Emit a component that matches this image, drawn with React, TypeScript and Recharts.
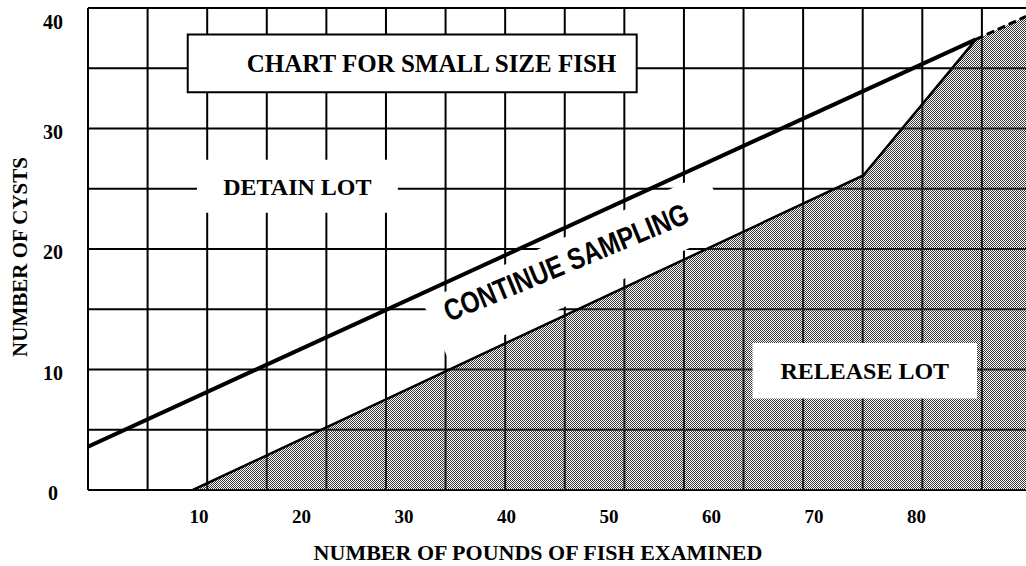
import {
  ComposedChart,
  XAxis,
  YAxis,
  CartesianGrid,
  Area,
  Line,
  ReferenceArea,
  ReferenceDot,
} from "recharts"

const SERIF = '"Liberation Serif", "Times New Roman", serif'
const SANS = '"Liberation Sans", Arial, sans-serif'

// axes
const X_DOMAIN = [-0.83, 90.68]
const X_TICKS = [10, 20, 30, 40, 50, 60, 70, 80]
const Y_TICKS = [0, 5, 10, 15, 20, 25, 30, 35, 40]
// the printed grid does not follow the pound ticks, it has its own columns
const GRID_SPAN = 15.74
const GRID_COLS = [0, 1, 2, 3, 4, 5, 6, 7, 8, 9, 10, 11, 12, 13, 14, 15]

// decision lines (pounds examined -> cysts)
const UPPER_LINE = [
  { x: -0.83, y: 3.6 },
  { x: 85.8, y: 37.4 },
]
const UPPER_DASHED = [
  { x: 85.8, y: 37.4 },
  { x: 90.68, y: 39.3 },
]
const LOWER_LINE = [
  { x: 9.4, y: 0 },
  { x: 74.8, y: 26.1 },
  { x: 85.8, y: 37.4 },
]
const RELEASE_REGION = [
  { x: 9.4, y: 0 },
  { x: 74.8, y: 26.1 },
  { x: 85.8, y: 37.4 },
  { x: 90.68, y: 39.3 },
]
// white strip behind "continue sampling"
const SAMPLING_BAND = [
  { x: 31.8, band: [15.6, 15.6] },
  { x: 34.4, band: [10.7, 16.6] },
  { x: 59.4, band: [20.7, 26.3] },
  { x: 62.0, band: [21.7, 21.7] },
]

const TITLE_BOX = { x1: 8.9, x2: 52.7, y1: 33.0, y2: 37.8 }
const DETAIN_BOX = { x1: 9.8, x2: 29.4, y1: 23.0, y2: 27.4 }
const RELEASE_BOX = { x1: 64.0, x2: 85.9, y1: 7.6, y2: 12.2 }
const SAMPLING_AT = { x: 45.8, y: 18.9 }

const labelStyle = {
  fill: "#000",
  fontSize: 24,
  fontWeight: 700,
  fontFamily: SERIF,
}

function YTick(props: any) {
  const { x, y, payload } = props
  if (payload.value % 10 !== 0) return <g />
  // top label sits below the frame
  const shift = payload.value === 40 ? 14 : 3
  return (
    <text
      x={x}
      y={y + shift}
      textAnchor="middle"
      dominantBaseline="central"
      fill="#000"
      fontSize={20}
      fontWeight={700}
      fontFamily={SERIF}
    >
      {payload.value}
    </text>
  )
}

function XTitle(props: any) {
  const vb = props.viewBox
  return (
    <text
      x={vb.x + vb.width / 2 - 19}
      y={vb.y + vb.height - 6}
      textAnchor="middle"
      fill="#000"
      fontSize={22}
      fontWeight={700}
      fontFamily={SERIF}
    >
      NUMBER OF POUNDS OF FISH EXAMINED
    </text>
  )
}

function YTitle(props: any) {
  const vb = props.viewBox
  const cx = vb.x + 20
  const cy = vb.y + vb.height / 2 + 8
  return (
    <text
      x={cx}
      y={cy}
      transform={`rotate(-90 ${cx} ${cy})`}
      textAnchor="middle"
      dominantBaseline="central"
      fill="#000"
      fontSize={21}
      fontWeight={700}
      fontFamily={SERIF}
    >
      NUMBER OF CYSTS
    </text>
  )
}

function SamplingText(props: any) {
  const { cx, cy } = props
  return (
    <text
      x={cx}
      y={cy}
      transform={`rotate(-22.5 ${cx} ${cy})`}
      textAnchor="middle"
      dominantBaseline="central"
      fill="#000"
      fontSize={30}
      fontWeight={700}
      fontFamily={SANS}
      textLength={262}
      lengthAdjust="spacingAndGlyphs"
    >
      CONTINUE SAMPLING
    </text>
  )
}

// vertical rules: evenly spaced columns across the plot
const gridColumns = ({ offset }: any) =>
  GRID_COLS.map((c) => offset.left + (c * offset.width) / GRID_SPAN)

export default function App() {
  return (
    <div style={{ position: "absolute", left: 0, top: 0, background: "#fff" }}>
      <ComposedChart
        width={1026}
        height={566}
        margin={{ top: 8, right: 0, bottom: 0, left: 0 }}
      >
        <defs>
          <pattern id="dither" width="2" height="2" patternUnits="userSpaceOnUse">
            <rect x="0" y="0" width="1" height="1" fill="#3a3a3a" />
            <rect x="1" y="1" width="1" height="1" fill="#3a3a3a" />
          </pattern>
        </defs>
        <XAxis
          dataKey="x"
          type="number"
          domain={X_DOMAIN}
          ticks={X_TICKS}
          interval={0}
          allowDataOverflow
          axisLine={false}
          tickLine={false}
          tickSize={0}
          tickMargin={20}
          height={76}
          tick={{ fill: "#000", fontSize: 19, fontWeight: 700, fontFamily: SERIF }}
          label={{ content: XTitle }}
        />
        <YAxis
          type="number"
          domain={[0, 40]}
          ticks={Y_TICKS}
          interval={0}
          allowDataOverflow
          axisLine={false}
          tickLine={false}
          tickSize={0}
          tickMargin={35}
          width={88}
          tick={YTick}
          label={{ content: YTitle }}
        />
        <CartesianGrid
          stroke="#000"
          strokeWidth={2}
          verticalCoordinatesGenerator={gridColumns}
        />

        <Area
          data={RELEASE_REGION}
          dataKey="y"
          type="linear"
          fill="url(#dither)"
          fillOpacity={1}
          stroke="none"
          isAnimationActive={false}
        />
        <Area
          data={SAMPLING_BAND}
          dataKey="band"
          type="linear"
          fill="#fff"
          fillOpacity={1}
          stroke="none"
          isAnimationActive={false}
        />

        <Line
          data={LOWER_LINE}
          dataKey="y"
          type="linear"
          stroke="#000"
          strokeWidth={2.5}
          dot={false}
          isAnimationActive={false}
        />
        <Line
          data={UPPER_LINE}
          dataKey="y"
          type="linear"
          stroke="#000"
          strokeWidth={4}
          dot={false}
          isAnimationActive={false}
        />
        <Line
          data={UPPER_DASHED}
          dataKey="y"
          type="linear"
          stroke="#000"
          strokeWidth={3}
          strokeDasharray="8 4"
          dot={false}
          isAnimationActive={false}
        />

        <ReferenceArea
          {...TITLE_BOX}
          fill="#fff"
          fillOpacity={1}
          stroke="#000"
          strokeWidth={2}
          zIndex={450}
          label={{ ...labelStyle, value: "CHART FOR SMALL SIZE FISH", position: "insideLeft", offset: 59, fontSize: 25 }}
        />
        <ReferenceArea
          {...DETAIN_BOX}
          fill="#fff"
          fillOpacity={1}
          stroke="none"
          zIndex={450}
          label={{ ...labelStyle, value: "DETAIN LOT", position: "center" }}
        />
        <ReferenceArea
          {...RELEASE_BOX}
          fill="#fff"
          fillOpacity={1}
          stroke="none"
          zIndex={450}
          label={{ ...labelStyle, value: "RELEASE LOT", position: "center" }}
        />
        <ReferenceDot
          x={SAMPLING_AT.x}
          y={SAMPLING_AT.y}
          r={1}
          zIndex={700}
          shape={SamplingText}
        />
      </ComposedChart>
    </div>
  )
}
